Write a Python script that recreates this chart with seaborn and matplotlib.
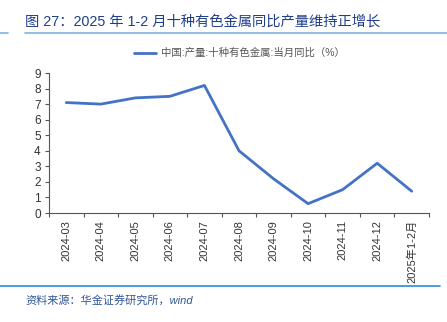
import matplotlib
matplotlib.use("Agg")
import matplotlib.pyplot as plt
import seaborn as sns
import pandas as pd
from matplotlib.ticker import FixedLocator

categories = ["2024-03", "2024-04", "2024-05", "2024-06", "2024-07", "2024-08",
              "2024-09", "2024-10", "2024-11", "2024-12", "2025年1-2月"]
values = [7.1, 7.0, 7.4, 7.5, 8.2, 4.0, 2.2, 0.6, 1.5, 3.2, 1.4]
series_name = "中国:产量:十种有色金属:当月同比（%）"
yticks = [0, 1, 2, 3, 4, 5, 6, 7, 8, 9]

sns.set_theme(style="white")
plt.rcParams['font.family'] = ['Liberation Sans', 'Noto Sans CJK SC', 'DejaVu Sans']

df = pd.DataFrame({"x": list(range(len(categories))), "y": values, "s": series_name})

fig = plt.figure(figsize=(4.47, 3.22), dpi=100)
ax = fig.add_axes([49/447, 1-213/322, (429-49)/447, 140/322])

sns.lineplot(data=df, x="x", y="y", hue="s", palette=["#4472C4"], linewidth=2, ax=ax)

ax.set_xlim(-0.5, len(categories) - 0.5)
ax.set_ylim(0, 9)
ax.set_yticks(yticks)
ax.set_yticklabels([str(t) for t in yticks], fontsize=8.5, color="#333333")
ax.set_xticks(range(len(categories)))
ax.set_xticklabels(categories, rotation=90, fontsize=8, color="#333333")
ax.xaxis.set_minor_locator(FixedLocator([i - 0.5 for i in range(len(categories) + 1)]))
ax.tick_params(axis="x", which="major", length=0, pad=5)
ax.tick_params(axis="x", which="minor", length=3, width=0.8, color="#555555", direction="out", bottom=True)
ax.tick_params(axis="y", which="major", length=3, width=0.8, color="#555555", direction="out", left=True, pad=3)
ax.set_xlabel("")
ax.set_ylabel("")
for s in ["top", "right"]:
    ax.spines[s].set_visible(False)
for s in ["left", "bottom"]:
    ax.spines[s].set_color("#555555")
    ax.spines[s].set_linewidth(0.8)

leg = ax.legend(loc="upper center", bbox_to_anchor=(0.5, 1.245), frameon=False,
                fontsize=7.5, handlelength=2.2, handletextpad=0.4, labelcolor="#555555")

fig.text(25/447, 1-22/322, "图 27：2025 年 1-2 月十种有色金属同比产量维持正增长",
         fontsize=10.3, color="#1F3E8C", va="center", ha="left")
fig.add_artist(plt.Line2D([0, 8/447], [1-33/322, 1-33/322], color="#7FB2E5", lw=1.2))
fig.add_artist(plt.Line2D([25/447, 1], [1-33/322, 1-33/322], color="#7FB2E5", lw=1.2))
fig.add_artist(plt.Line2D([0, 440/447], [1-286/322, 1-286/322], color="#2E8BD0", lw=1.2))
fig.text(25/447, 1-300/322, "资料来源：华金证券研究所，wind", fontsize=8,
         color="#2F5597", style="italic", va="center", ha="left")

fig.savefig("out.png", dpi=100)
